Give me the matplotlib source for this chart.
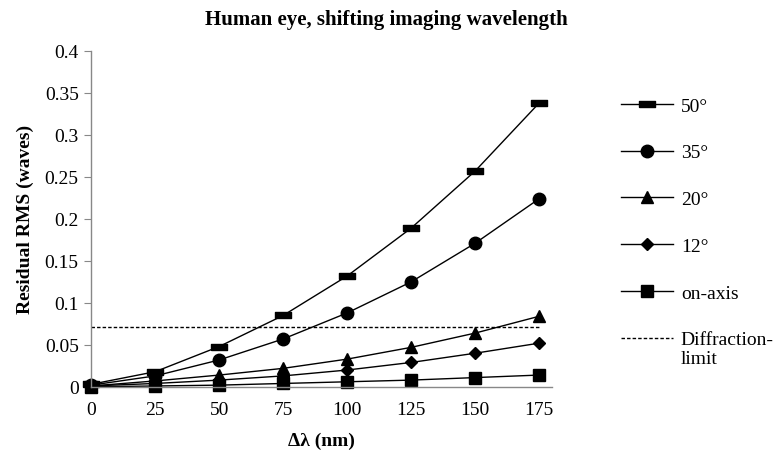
import matplotlib
matplotlib.use("Agg")
import matplotlib.pyplot as plt

# Data
delta_lambda = [0, 25, 50, 75, 100, 125, 150, 175]
rms_50 = [0.003, 0.018, 0.048, 0.085, 0.132, 0.189, 0.257, 0.338]
rms_35 = [0.002, 0.013, 0.032, 0.057, 0.088, 0.125, 0.171, 0.224]
rms_20 = [0.001, 0.007, 0.014, 0.022, 0.033, 0.047, 0.064, 0.084]
rms_12 = [0.001, 0.004, 0.008, 0.013, 0.020, 0.029, 0.040, 0.052]
rms_on_axis = [0.0, 0.001, 0.002, 0.004, 0.006, 0.008, 0.011, 0.014]
diffraction_limit = 0.0714
series_labels = ["50\u00b0", "35\u00b0", "20\u00b0", "12\u00b0", "on-axis"]
y_ticks = [0, 0.05, 0.1, 0.15, 0.2, 0.25, 0.3, 0.35, 0.4]
y_tick_labels = ["0", "0.05", "0.1", "0.15", "0.2", "0.25", "0.3", "0.35", "0.4"]

plt.rcParams["font.family"] = ["Liberation Serif", "DejaVu Serif"]

fig = plt.figure(figsize=(7.73, 4.52), dpi=100)
ax = fig.add_axes([0.118, 0.142, 0.596, 0.743])

bar_marker = [(-1, -0.32), (1, -0.32), (1, 0.32), (-1, 0.32), (-1, -0.32)]
styles = [
    dict(marker=bar_marker, markersize=12),
    dict(marker="o", markersize=9),
    dict(marker="^", markersize=9),
    dict(marker="D", markersize=6),
    dict(marker="s", markersize=9),
]
all_series = [rms_50, rms_35, rms_20, rms_12, rms_on_axis]
for vals, lab, st in zip(all_series, series_labels, styles):
    ax.plot(delta_lambda, vals, color="black", lw=1.0, label=lab,
            markerfacecolor="black", markeredgecolor="black", **st)

ax.plot([delta_lambda[0], delta_lambda[-1]], [diffraction_limit] * 2,
        color="black", lw=1.0, ls=(0, (2.5, 1.5)), label="Diffraction-")

ax.set_xlim(0, 180)
ax.set_ylim(0, 0.4)
ax.set_xticks(delta_lambda)
ax.set_yticks(y_ticks)
ax.set_yticklabels(y_tick_labels)
ax.tick_params(axis="x", length=0, pad=10, labelsize=14)
ax.tick_params(axis="y", length=5, color="#888888", direction="out", pad=4, labelsize=14)

for side in ["top", "right"]:
    ax.spines[side].set_visible(False)
for side in ["left", "bottom"]:
    ax.spines[side].set_color("#888888")
    ax.spines[side].set_linewidth(1.0)
for line in ax.lines:
    line.set_clip_on(False)

ax.set_xlabel("\u0394\u03bb (nm)", fontsize=14, fontweight="bold", labelpad=10)
ax.set_ylabel("Residual RMS (waves)", fontsize=14, fontweight="bold", labelpad=8)
fig.suptitle("Human eye, shifting imaging wavelength", x=0.5, y=0.978,
             fontsize=15, fontweight="bold")

leg = ax.legend(loc="upper left", bbox_to_anchor=(1.149, 0.863), frameon=False,
                fontsize=14, handlelength=2.7, labelspacing=1.5,
                handletextpad=0.4, borderpad=0, borderaxespad=0)

# second line of the diffraction label, placed under the legend text
fig.canvas.draw()
last = leg.get_texts()[-1]
bb = last.get_window_extent().transformed(fig.transFigure.inverted())
fig.text(bb.x0, bb.y0 - 0.003, "limit", fontsize=14, ha="left", va="top")

fig.savefig("out.png", dpi=100)
